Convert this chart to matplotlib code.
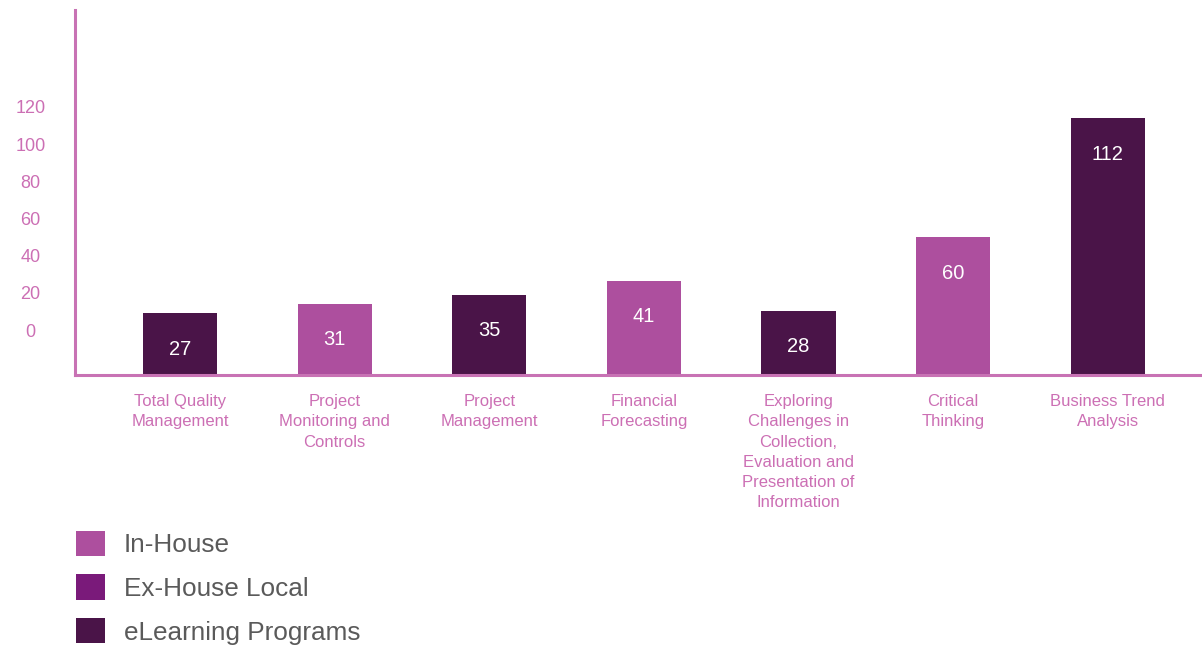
import matplotlib

matplotlib.use("Agg")
import matplotlib.pyplot as plt  # noqa: E402
from matplotlib.patches import Patch  # noqa: E402

# programme counts per course, coloured by delivery type
courses = [
    "Total Quality\nManagement",
    "Project\nMonitoring and\nControls",
    "Project\nManagement",
    "Financial\nForecasting",
    "Exploring\nChallenges in\nCollection,\nEvaluation and\nPresentation of\nInformation",
    "Critical\nThinking",
    "Business Trend\nAnalysis",
]
counts = [27, 31, 35, 41, 28, 60, 112]
delivery = ["eLearning Programs", "In-House", "eLearning Programs", "In-House",
            "eLearning Programs", "In-House", "eLearning Programs"]

legend_labels = ["In-House", "Ex-House Local", "eLearning Programs"]
legend_colors = ["#ad4f9e", "#7a1a7a", "#4a1448"]
y_tick_values = [0, 20, 40, 60, 80, 100, 120]

AXIS_PINK = "#c872b4"
TEXT_PINK = "#cc6fb4"
GREY = "#5a5a5a"
COLOR_OF = dict(zip(legend_labels, legend_colors))

plt.rcParams.update({"font.family": ["Liberation Sans", "DejaVu Sans"]})

fig = plt.figure(figsize=(12.02, 6.46), dpi=100)
ax = fig.add_axes([0.0624, 0.4195, 0.9376, 0.565])

x = list(range(len(courses)))
bars = ax.bar(x, counts, width=0.48, color=[COLOR_OF[d] for d in delivery], zorder=2)
for rect, value in zip(bars, counts):
    ax.annotate(f"{value}", (rect.get_x() + rect.get_width() / 2, rect.get_height()),
                textcoords="offset points", xytext=(0, -26), ha="center", va="center",
                fontsize=14.5, color="white")

ax.set_xlim(-0.68, 6.61)
ax.set_ylim(0, 159)

# tick labels sit on their own scale, lifted above the baseline
ax.set_yticks([19.6 + 0.81 * v for v in y_tick_values], [str(v) for v in y_tick_values])
ax.tick_params(axis="y", length=0, pad=32, labelsize=13, labelcolor=TEXT_PINK)
for lbl in ax.get_yticklabels():
    lbl.set_horizontalalignment("center")

ax.set_xticks(x, courses)
ax.tick_params(axis="x", length=0, pad=14, labelsize=12, labelcolor=TEXT_PINK)
for lbl in ax.get_xticklabels():
    lbl.set_linespacing(1.42)
    lbl.set_verticalalignment("top")

for side in ("top", "right"):
    ax.spines[side].set_visible(False)
for side in ("left", "bottom"):
    ax.spines[side].set_color(AXIS_PINK)
    ax.spines[side].set_linewidth(2.2)

handles = [Patch(facecolor=c, edgecolor="none") for c in legend_colors]
fig.legend(handles, legend_labels, loc="lower left", bbox_to_anchor=(0.0545, -0.014),
           frameon=False, fontsize=18.8, labelcolor=GREY, handlelength=1.11, handleheight=1.11,
           handletextpad=0.73, labelspacing=0.66, borderaxespad=0)

fig.savefig("out.png", dpi=100)
plt.close(fig)
